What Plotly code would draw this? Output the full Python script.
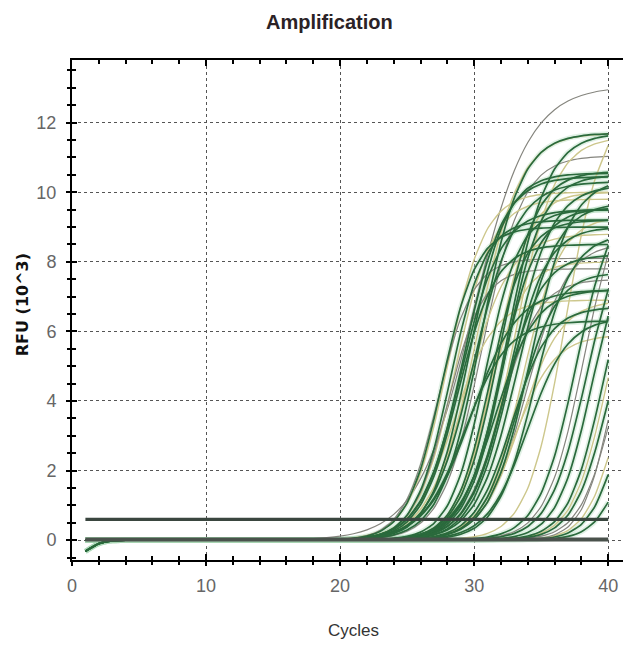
import numpy as np
import plotly.graph_objects as go

# ---- data ----
cycles = list(range(1, 41))
# per-curve: plateau (RFU x10^3), midpoint cycle, width, colour group
plateau = [13.05, 11.7, 11.7, 11.05, 10.55, 10.45, 10.3, 9.8, 9.5, 9.2, 8.8, 8.5, 7.8, 7.2, 6.3, 6.9, 9.0, 10.0, 8.1,
           11.7, 11.6, 10.6, 10.5, 10.2, 10.0, 9.7, 9.55, 9.3, 9.2, 9.0, 8.55, 8.2, 8.0, 7.7, 7.5, 7.2, 6.9, 6.7, 6.4, 5.9, 8.8, 10.4, 9.5,
           12.5, 10.5, 9.0, 9.0, 8.0, 8.0, 7.0, 7.0, 6.0, 9.0, 8.0, 10.0, 9.5]
midpoint = [29.9, 30.2, 30.5, 30.6, 29.6, 29.2, 30.0, 28.6, 29.0, 28.2, 29.5, 28.8, 28.0, 29.8, 29.3, 28.5, 27.6, 28.0, 27.3,
            32.5, 33.0, 31.8, 32.3, 32.8, 31.5, 33.2, 32.0, 33.6, 31.2, 32.6, 33.9, 32.2, 31.0, 33.3, 32.0, 31.6, 33.5, 32.8, 34.0, 33.0, 34.5, 34.2, 30.8,
            36.8, 38.2, 39.6, 39.9, 40.0, 40.5, 41.2, 40.8, 41.8, 38.8, 40.3, 37.6, 38.4]
width = [2.1, 1.6, 1.5, 1.5, 1.4, 1.5, 1.6, 1.4, 1.5, 1.3, 1.6, 1.4, 1.3, 1.7, 1.6, 1.5, 1.3, 1.4, 1.3,
         1.5, 1.5, 1.4, 1.4, 1.5, 1.3, 1.5, 1.4, 1.4, 1.3, 1.4, 1.5, 1.4, 1.3, 1.4, 1.4, 1.5, 1.5, 1.4, 1.5, 1.5, 1.4, 1.5, 1.3,
         1.4, 1.4, 1.3, 1.3, 1.3, 1.3, 1.2, 1.2, 1.2, 1.3, 1.1, 1.4, 1.4]
group = ["Y", "K", "G", "Y", "G", "G", "G", "K", "G", "G", "K", "G", "Y", "G", "G", "K", "G", "K", "Y",
         "G", "K", "G", "G", "G", "K", "G", "G", "K", "G", "G", "Y", "G", "K", "G", "Y", "G", "K", "G", "G", "K", "G", "G", "G",
         "K", "Y", "G", "K", "G", "Y", "G", "K", "G", "G", "Y", "G", "G"]
start_dip = [-0.32, -0.10, -0.02]      # early-cycle hook seen on some wells
flat_levels = [0.0, 0.04]              # non-amplifying wells
threshold = 0.6
x_ticks = [0, 10, 20, 30, 40]
y_ticks = [0, 2, 4, 6, 8, 10, 12]

colors = {"G": "#2a6a3c", "K": "#cdc78c", "Y": "#85857e"}
widths = {"G": 1.7, "K": 1.4, "Y": 1.2}

fig = go.Figure()
x = np.array(cycles, dtype=float)
n = len(plateau)
order = [i for i in range(n) if group[i] != "G"] + [i for i in range(n) if group[i] == "G"]
curves = {}
for i in range(n):
    y = plateau[i] / (1 + np.exp(-(x - midpoint[i]) / width[i]))
    y = y - plateau[i] / (1 + np.exp(-(1 - midpoint[i]) / width[i]))
    if group[i] == "G" and i % 4 == 0:
        y[:3] += np.array(start_dip)
    curves[i] = y
# soft halo under the green wells
for i in range(n):
    if group[i] == "G":
        fig.add_trace(go.Scatter(x=x, y=curves[i], mode="lines",
                                 line=dict(color="rgba(170,215,180,0.35)", width=5, shape="spline", smoothing=0.6),
                                 hoverinfo="skip", showlegend=False))
for i in order:
    fig.add_trace(go.Scatter(x=x, y=curves[i], mode="lines",
                             line=dict(color=colors[group[i]], width=widths[group[i]], shape="spline", smoothing=0.6),
                             hoverinfo="skip", showlegend=False))
for lv in flat_levels:
    fig.add_trace(go.Scatter(x=[cycles[0], cycles[-1]], y=[lv, lv], mode="lines", line=dict(color="#4a524c", width=2.5),
                             hoverinfo="skip", showlegend=False))
fig.add_trace(go.Scatter(x=[cycles[0], cycles[-1]], y=[threshold, threshold], mode="lines", line=dict(color="#3a463f", width=3.2),
                         hoverinfo="skip", showlegend=False))
# dummy trace for the overlay axes
fig.add_trace(go.Scatter(x=[0], y=[0], xaxis="x2", yaxis="y2", mode="markers", marker=dict(opacity=0),
                         hoverinfo="skip", showlegend=False))

sans = "Liberation Sans, Arial, sans-serif"
xr = [0, 41.7]
yr = [-0.57, 13.8]
fig.update_layout(
    width=623, height=638, margin=dict(l=64, r=0, t=52, b=86, autoexpand=False),
    paper_bgcolor="white", plot_bgcolor="white",
    xaxis=dict(range=xr, tickvals=x_ticks, ticks="inside", ticklen=6, tickwidth=1.5, tickcolor="black",
               minor=dict(dtick=2, tick0=0, ticks="inside", ticklen=4, tickcolor="black", showgrid=False),
               showgrid=True, gridcolor="#555", griddash="dot", gridwidth=1, automargin=False,
               showline=True, linecolor="black", linewidth=2, mirror="ticks", zeroline=False,
               tickfont=dict(family=sans, size=18, color="#666"), ticklabelstandoff=8),
    xaxis2=dict(range=xr, overlaying="x", side="bottom", anchor="y", ticks="outside", ticklen=5, tickwidth=1.5,
                tickcolor="black", tickvals=x_ticks, automargin=False,
                minor=dict(dtick=2, tick0=0, ticks="outside", ticklen=4, tickcolor="black"),
                showticklabels=False, showgrid=False, showline=False, zeroline=False),
    yaxis=dict(range=yr, tickvals=y_ticks, ticks="inside", ticklen=5, tickwidth=1.5, tickcolor="black",
               minor=dict(dtick=0.5, tick0=0, ticks="inside", ticklen=4, tickcolor="black", showgrid=False),
               showgrid=True, gridcolor="#555", griddash="dot", gridwidth=1, automargin=False,
               showline=True, linecolor="black", linewidth=2, zeroline=False,
               tickfont=dict(family=sans, size=18, color="#666"), ticklabelstandoff=10),
    yaxis2=dict(range=yr, overlaying="y", side="left", anchor="x", ticks="outside", ticklen=5, tickwidth=1.5,
                tickcolor="black", tickvals=y_ticks, automargin=False,
                minor=dict(dtick=0.5, tick0=0, ticks="outside", ticklen=4, tickcolor="black"),
                showticklabels=False, showgrid=False, showline=False, zeroline=False),
    annotations=[
        dict(text="<b>Amplification</b>", xref="paper", yref="paper", x=0.46, y=1.076, showarrow=False,
             font=dict(family=sans, size=20, color="#2b2226"), xanchor="center", yanchor="middle"),
        dict(text="Cycles", xref="paper", yref="paper", x=0.503, y=-0.14, showarrow=False,
             font=dict(family=sans, size=17, color="#333"), xanchor="center", yanchor="middle"),
        dict(text="<b>RFU (10^3)</b>", xref="paper", yref="paper", x=-0.089, y=0.51, showarrow=False, textangle=-90,
             font=dict(family="DejaVu Sans, sans-serif", size=16, color="#111"), xanchor="center", yanchor="middle"),
    ],
)
fig.write_html("out.html")
